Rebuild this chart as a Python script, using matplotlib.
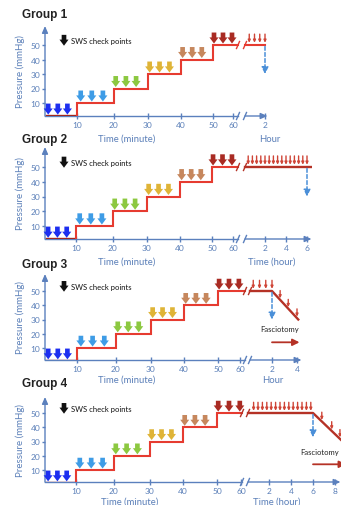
import numpy as np
import matplotlib
matplotlib.use("Agg")
import matplotlib.pyplot as plt

plt.rcParams["font.family"] = ["Lato", "DejaVu Sans"]

W, H = 341, 506

AXIS_COLOR = "#5b80bd"
TEXT_COLOR = "#5a7fb8"
STEP_RED = "#e63b30"
BASE_RED = "#a3271f"
HOUR_RED = "#b53226"
TICK_RED = "#cf4436"
DASH_BLUE = "#4a8fd8"
LEVEL_COLORS = ["#1d2ff0", "#3e9ce6", "#8cc840", "#dfb437", "#c6875d", "#a92b23"]

# ----------------------------- data -----------------------------
step_times = [0, 10, 20, 30, 40, 50, 60]
step_levels = [1, 10, 20, 30, 40, 50]
minute_checks = [[1, 4, 7], [11, 14, 17], [20.5, 23.5, 26.5],
                 [30.5, 33.5, 36.5], [40.5, 43.5, 46.5], [50.5, 55, 59.5]]
minute_ticks = [10, 20, 30, 40, 50, 60]
pressure_ticks = [10, 20, 30, 40, 50]

groups = ["Group 1", "Group 2", "Group 3", "Group 4"]
hour_ticks = [[2], [2, 4, 6], [2, 4], [2, 4, 6, 8]]
hour_titles = ["Hour", "Time (hour)", "Hour", "Time (hour)"]
hold_end = [2, 6.5, 2, 6]          # hours held at 50 mmHg
release_at = [2, 6, 2, 6]          # dashed blue arrow (hours)
release_to = [30, 30, 30, 33]      # mmHg
decline_end = [None, None, (4.1, 30), (8.7, 30)]
hour_checks = [
    [0.5, 1, 1.5, 2],
    [0.4, 0.8, 1.2, 1.6, 2.0, 2.4, 2.8, 3.2, 3.6, 4.0, 4.4, 4.8, 5.2, 5.6, 6.0],
    [0.5, 1, 1.5, 2],
    [0.6, 1.0, 1.4, 1.8, 2.2, 2.6, 3.0, 3.4, 3.8, 4.2, 4.6, 5.0, 5.4, 5.8],
]
decline_checks = [[], [], [2.65, 3.3, 4.0], [6.8, 7.7, 8.45]]
fasciotomy_arrow = [None, None, (2, 4.2), (6, 9.0)]

# ----------------------------- layout (pixels) -----------------------------
LEFT = 45
layout = [
    dict(top=27, bot=117, y10=104, y50=46, right=268,
         mpos=[0, 32, 69, 103, 136, 168, 188], brk=(193, 200), h2=220, hpx=10.5,
         title_y=15, xlab_x=(82, 225), fas=None),
    dict(top=148, bot=240, y10=227, y50=168, right=312,
         mpos=[0, 31, 68, 102, 135, 167, 188], brk=(193, 200), h2=220, hpx=10.5,
         title_y=140, xlab_x=(82, 227), fas=None),
    dict(top=275, bot=361, y10=349, y50=292, right=302,
         mpos=[0, 32, 71, 106, 139, 173, 195], brk=(200, 205), h2=227, hpx=12.5,
         title_y=265, xlab_x=(82, 228), fas=(235, 24)),
    dict(top=398, bot=483, y10=471, y50=414, right=341,
         mpos=[0, 31, 69, 105, 138, 172, 196], brk=(197, 203), h2=224, hpx=11,
         title_y=384, xlab_x=(85, 232), fas=(275, 23)),
]


def xm(t, L):
    return np.interp(t, step_times, L["mpos"])


def xh(h, L):
    return L["h2"] + (np.asarray(h, dtype=float) - 2) * L["hpx"]


def block_arrow(ax, x, y_top, y_tip, color, scale=10.5):
    ax.annotate("", xy=(x, y_tip), xytext=(x, y_top),
                arrowprops=dict(arrowstyle="simple,head_length=0.42,head_width=0.62,tail_width=0.32",
                                color=color, mutation_scale=scale, shrinkA=0, shrinkB=0,
                                lw=0))


def thin_arrow(ax, x, y_top, y_tip):
    ax.annotate("", xy=(x, y_tip), xytext=(x, y_top),
                arrowprops=dict(arrowstyle="-|>,head_length=0.15,head_width=0.07",
                                color=TICK_RED, lw=1.0, mutation_scale=10,
                                shrinkA=0, shrinkB=0))


fig = plt.figure(figsize=(W / 100, H / 100), dpi=100)

for i, L in enumerate(layout):
    width = L["right"] - LEFT
    height = L["bot"] - L["top"]
    ax = fig.add_axes([LEFT / W, 1 - L["bot"] / H, width / W, height / H])
    k = (L["y10"] - L["y50"]) / 40.0            # px per mmHg
    y0 = 10 - (L["bot"] - L["y10"]) / k
    y1 = 10 + (L["y10"] - L["top"]) / k
    ax.set_xlim(0, width)
    ax.set_ylim(y0, y1)
    for s in ax.spines.values():
        s.set_visible(False)
    b0, b1 = L["brk"]

    # axes with arrow heads
    ax.annotate("", xy=(0, y1), xytext=(0, y0),
                arrowprops=dict(arrowstyle="-|>,head_length=0.5,head_width=0.22",
                                color=AXIS_COLOR, lw=1.0, mutation_scale=8,
                                shrinkA=0, shrinkB=0))
    ax.plot([0, b0], [y0, y0], color=AXIS_COLOR, lw=1.0, clip_on=False)
    ax.annotate("", xy=(width - 0.5, y0), xytext=(b1, y0),
                arrowprops=dict(arrowstyle="-|>,head_length=0.5,head_width=0.22",
                                color=AXIS_COLOR, lw=1.0, mutation_scale=8,
                                shrinkA=0, shrinkB=0), annotation_clip=False)

    # ticks
    xt = list(xm(minute_ticks, L)) + list(xh(hour_ticks[i], L))
    xl = [str(t) for t in minute_ticks] + [str(t) for t in hour_ticks[i]]
    ax.set_xticks(xt)
    ax.set_xticklabels(xl)
    ax.set_yticks(pressure_ticks)
    ax.set_yticklabels([str(t) for t in pressure_ticks])
    ax.tick_params(axis="x", direction="inout", length=4, width=1, color=AXIS_COLOR,
                   labelcolor=TEXT_COLOR, labelsize=6, pad=1.5)
    ax.tick_params(axis="y", direction="out", length=2.5, width=1, color=AXIS_COLOR,
                   labelcolor=TEXT_COLOR, labelsize=6, pad=1)

    ax.set_ylabel("Pressure (mmHg)", color=TEXT_COLOR, fontsize=7)
    ax.yaxis.set_label_coords(-20 / width, 0.5)

    # axis titles
    for xx, txt in zip(L["xlab_x"], ["Time (minute)", hour_titles[i]]):
        ax.annotate(txt, xy=(xx, 0), xycoords=("data", "axes fraction"),
                    xytext=(0, -(22 if i < 2 else 19.5) * 0.72), textcoords="offset points",
                    ha="center", va="center", fontsize=6.8, color=TEXT_COLOR,
                    annotation_clip=False)

    fig.text(22 / W, 1 - L["title_y"] / H, groups[i], fontsize=8.5, fontweight="bold",
             family=["Liberation Sans Narrow", "Liberation Sans", "DejaVu Sans"],
             ha="left", va="center", color="#222222")

    # step line
    lv = step_levels
    ax.plot([xm(0, L), xm(10, L)], [lv[0], lv[0]], color=BASE_RED, lw=2.4,
            solid_capstyle="butt")
    sx, sy = [xm(10, L)], [lv[0]]
    for j in range(1, len(lv)):
        sx += [xm(step_times[j], L), xm(step_times[j + 1], L) if j < len(lv) - 1 else b0]
        sy += [lv[j], lv[j]]
    ax.plot(sx, sy, color=STEP_RED, lw=1.5, solid_joinstyle="miter")

    # hour hold line
    line_col = STEP_RED if i == 0 else HOUR_RED
    hx = [b1, xh(hold_end[i], L)]
    hy = [50, 50]
    if decline_end[i] is not None:
        hx.append(xh(decline_end[i][0], L))
        hy.append(decline_end[i][1])
    ax.plot(hx, hy, color=line_col, lw=1.5 if i == 0 else 1.7)

    # break marks
    sl = 3.5 / k
    for bx in (b0, b1):
        for by in (y0, 50):
            ax.plot([bx - 1.5, bx + 1.5], [by - sl, by + sl], color=line_col if by == 50 else AXIS_COLOR,
                    lw=1.0, clip_on=False)

    # SWS check points (minutes)
    for j, times in enumerate(minute_checks):
        base = lv[j] if j > 0 else 1
        for t in times:
            block_arrow(ax, xm(t, L), base + 8.6, base + 1.0, LEVEL_COLORS[j])

    # hourly checks
    for h in hour_checks[i]:
        thin_arrow(ax, xh(h, L), 57.5, 51.5)
    if decline_end[i] is not None:
        h0, h1 = hold_end[i], decline_end[i][0]
        for h in decline_checks[i]:
            p = 50 + (decline_end[i][1] - 50) * (h - h0) / (h1 - h0)
            thin_arrow(ax, xh(h, L), p + 6.5, p + 1.0)

    # release (dashed)
    ax.annotate("", xy=(xh(release_at[i], L), release_to[i]), xytext=(xh(release_at[i], L), 49),
                arrowprops=dict(arrowstyle="-|>,head_length=0.5,head_width=0.25",
                                color=DASH_BLUE, lw=1.1, ls=(0, (2.5, 1.5)), mutation_scale=8,
                                shrinkA=0, shrinkB=0))

    # fasciotomy
    if L["fas"] is not None:
        ax.text(L["fas"][0], L["fas"][1], "Fasciotomy", fontsize=5.5, ha="center",
                va="center", color="#222222", clip_on=False)
        fa, fb = fasciotomy_arrow[i]
        ax.annotate("", xy=(xh(fb, L), 14), xytext=(xh(fa, L), 14),
                    arrowprops=dict(arrowstyle="-|>,head_length=0.5,head_width=0.25",
                                    color=HOUR_RED, lw=1.3, mutation_scale=8,
                                    shrinkA=0, shrinkB=0), annotation_clip=False)

    # legend
    block_arrow(ax, 19, 57, 49.5, "#111111")
    ax.text(26, 53, "SWS check points", fontsize=5.5, va="center", ha="left", color="#111111")

fig.savefig("out.png", dpi=100)
